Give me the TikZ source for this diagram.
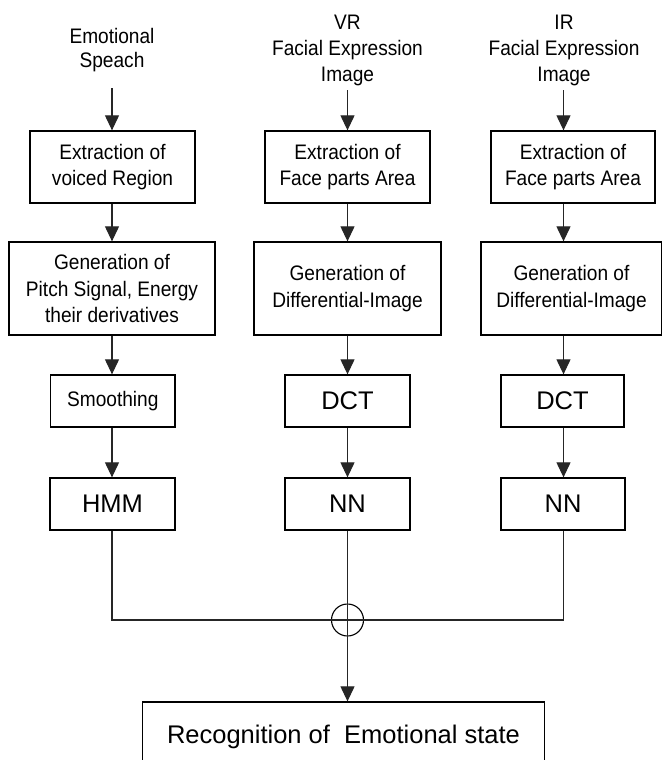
\documentclass[tikz,border=0pt]{standalone}
\usepackage{fontspec}
\setmainfont{Liberation Sans}[FakeStretch=0.91]
\newfontfamily\widefont{Liberation Sans}
\usetikzlibrary{arrows.meta}
\tikzset{
  box/.style={draw=black, line width=1.3pt, inner sep=0pt, align=center,
    minimum height=#1, font=\fontsize{21}{26.5}\selectfont},
  bigbox/.style={draw=black, line width=1.3pt, inner sep=0pt, align=center,
    minimum height=52, font=\widefont\fontsize{25.5}{30}\selectfont},
  lab/.style={align=center, inner sep=2pt, font=\fontsize{21}{26}\selectfont},
  arr/.style={draw=black!85, line width=1.1pt, -{Triangle[width=14pt,length=15pt]}},
  ln/.style={draw=black!85, line width=1.1pt},
}
\begin{document}
\begin{tikzpicture}[x=1pt,y=-1pt]
\useasboundingbox (0,0) rectangle (661,760);
\fill[white] (0,0) rectangle (661,760);
% column axes
\coordinate (c1) at (112,0);
\coordinate (c2) at (347.5,0);
\coordinate (c3) at (563.5,0);
% labels
\node[lab] (l1) at (112,50) {Emotional\\[-2pt]Speach};
\node[lab] (l2) at (347.5,50) {VR\\Facial Expression\\Image};
\node[lab] (l3) at (564,50) {IR\\Facial Expression\\Image};
% row 1
\node[box=72, minimum width=165] (e1) at (112.5,167) {Extraction of\\voiced Region};
\node[box=72, minimum width=165] (e2) at (347.5,167) {Extraction of\\Face parts Area};
\node[box=72, minimum width=164] (e3) at (573,167) {Extraction of\\Face parts Area};
% row 2
\node[box=93, minimum width=206] (g1) at (112,288.5) {Generation of\\Pitch Signal, Energy\\their derivatives};
\node[box=93, minimum width=187] (g2) at (347.5,288.5) {Generation of\\Differential-Image};
\node[box=93, minimum width=181] (g3) at (571.5,288.5) {Generation of\\Differential-Image};
% row 3
\node[box=52, minimum width=124.5] (s1) at (112.8,401) {Smoothing};
\node[bigbox, minimum width=125] (d2) at (347.5,401) {DCT};
\node[bigbox, minimum width=123] (d3) at (562.5,401) {DCT};
% row 4
\node[bigbox, minimum width=125] (h1) at (112.5,504) {HMM};
\node[bigbox, minimum width=125] (n2) at (347.5,504) {NN};
\node[bigbox, minimum width=124] (n3) at (563,504) {NN};
% fusion
\node[circle, draw=black, line width=1.1pt, minimum size=32, inner sep=0pt] (o) at (347.5,620) {};
% result
\node[draw=black, line width=1.3pt, minimum width=402, minimum height=70, inner sep=0pt,
  font=\widefont\fontsize{25.5}{30}\selectfont] (r) at (343.5,737) {Recognition of\ \ Emotional state};
% arrows column 1
\draw[arr] (c1 |- 0,88) -- (c1 |- e1.north);
\draw[arr] (c1 |- e1.south) -- (c1 |- g1.north);
\draw[arr] (c1 |- g1.south) -- (c1 |- s1.north);
\draw[arr] (c1 |- s1.south) -- (c1 |- h1.north);
% arrows column 2
\draw[arr] (c2 |- 0,90) -- (c2 |- e2.north);
\draw[arr] (c2 |- e2.south) -- (c2 |- g2.north);
\draw[arr] (c2 |- g2.south) -- (c2 |- d2.north);
\draw[arr] (c2 |- d2.south) -- (c2 |- n2.north);
% arrows column 3
\draw[arr] (c3 |- 0,90) -- (c3 |- e3.north);
\draw[arr] (c3 |- e3.south) -- (c3 |- g3.north);
\draw[arr] (c3 |- g3.south) -- (c3 |- d3.north);
\draw[arr] (c3 |- d3.south) -- (c3 |- n3.north);
% merge
\draw[ln] (c1 |- h1.south) -- (c1 |- o.center) -- (c3 |- o.center) -- (c3 |- n3.south);
\draw[arr] (c2 |- n2.south) -- (c2 |- r.north);
\end{tikzpicture}
\end{document}
